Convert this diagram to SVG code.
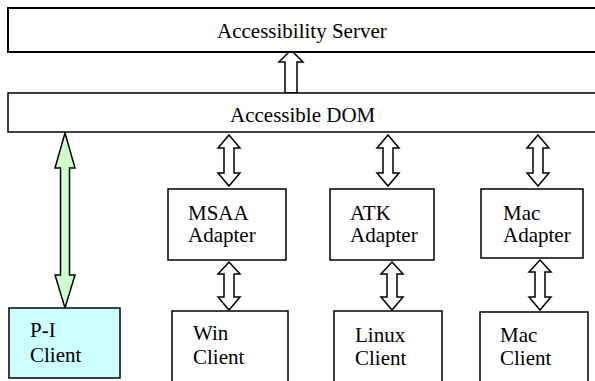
<svg xmlns="http://www.w3.org/2000/svg" width="595" height="381" viewBox="0 0 595 381">
<style>
.box{fill:#fff;stroke:#000;stroke-width:1.5}
.t{font-family:"Liberation Serif","Times New Roman",serif;font-size:21px;fill:#000}
.arr{fill:#fff;stroke:#000;stroke-width:1.5;stroke-linejoin:miter}
.garr{fill:#ccffcc;stroke:#000;stroke-width:1.5}
</style>
<rect width="595" height="381" fill="#fff"/>
<g id="connectors">
<polygon class="arr" points="291,50 303,62 297,62 297,93 285,93 285,62 279,62"/>
<polygon class="garr" points="65,133 75,168 69.5,168 69.5,275 75,275 65,308 55,275 60.5,275 60.5,168 55,168"/>
<polygon class="arr" points="229,135 240,148 234,148 234,173 240,173 229,186 218,173 224,173 224,148 218,148"/>
<polygon class="arr" points="229,262 240,274 234,274 234,297 240,297 229,310 218,297 224,297 224,274 218,274"/>
<polygon class="arr" points="388,135 399,148 393,148 393,173 399,173 388,186 377,173 383,173 383,148 377,148"/>
<polygon class="arr" points="392,262 403,274 397,274 397,297 403,297 392,310 381,297 387,297 387,274 381,274"/>
<polygon class="arr" points="538,135 549,148 543,148 543,173 549,173 538,186 527,173 533,173 533,148 527,148"/>
<polygon class="arr" points="540,260 551,272 545,272 545,297 551,297 540,310 529,297 535,297 535,272 529,272"/>
</g>
<g id="server">
<rect class="box" x="8" y="8" width="592" height="44" style="stroke-width:2"/>
<text class="t" x="217" y="38">Accessibility Server</text>
</g>
<g id="dom">
<rect class="box" x="8" y="93" width="592" height="39"/>
<text class="t" x="230" y="122">Accessible DOM</text>
</g>
<g id="pi-client">
<rect class="box" x="9" y="308" width="111" height="70" style="fill:#ccffff"/>
<text class="t" x="30" y="337">P-I</text>
<text class="t" x="30" y="362">Client</text>
</g>
<g id="msaa">
<rect class="box" x="168" y="189" width="118" height="71"/>
<text class="t" x="188" y="220">MSAA</text>
<text class="t" x="188" y="242">Adapter</text>
</g>
<g id="win-client">
<rect class="box" x="172" y="311" width="116" height="75"/>
<text class="t" x="193" y="340">Win</text>
<text class="t" x="193" y="364">Client</text>
</g>
<g id="atk">
<rect class="box" x="330" y="189" width="104" height="71"/>
<text class="t" x="350" y="220">ATK</text>
<text class="t" x="350" y="242">Adapter</text>
</g>
<g id="linux-client">
<rect class="box" x="334" y="311" width="108" height="75"/>
<text class="t" x="355" y="342">Linux</text>
<text class="t" x="355" y="365">Client</text>
</g>
<g id="mac-adapter">
<rect class="box" x="481" y="189" width="102" height="69"/>
<text class="t" x="503" y="220">Mac</text>
<text class="t" x="503" y="242">Adapter</text>
</g>
<g id="mac-client">
<rect class="box" x="480" y="312" width="108" height="74"/>
<text class="t" x="500" y="342">Mac</text>
<text class="t" x="500" y="365">Client</text>
</g>
</svg>
